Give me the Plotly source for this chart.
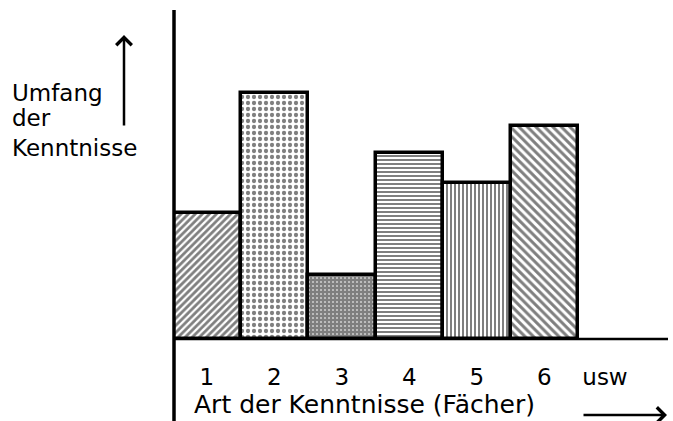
import plotly.graph_objects as go

# --- data ---
categories = [1, 2, 3, 4, 5, 6]
umfang = [3.83, 7.48, 1.95, 5.65, 4.74, 6.47]
patterns = ["/", ".", "+", "-", "|", "\\"]
pattern_sizes = [5, 6, 4, 4, 4, 6]
pattern_solidity = [0.55, 0.4, 0.9, 0.5, 0.5, 0.5]
tick_vals = [1, 2, 3, 4, 5, 6, 6.9]
tick_text = ["1", "2", "3", "4", "5", "6", "usw"]

W, H = 673, 421
L, R, T, B = 173, 0, 10, 82
PX = 67.5  # pixels per category
plot_w = W - L - R
plot_h = H - T - B

def px_x(p):
    return (p - L) / plot_w

def px_y(p):
    return (H - B - p) / plot_h

FONT = "DejaVu Sans"
INK = "#000000"

fig = go.Figure()
fig.add_trace(go.Bar(
    x=categories,
    y=umfang,
    width=1,
    marker=dict(
        color="white",
        line=dict(color=INK, width=3.5),
        pattern=dict(shape=patterns, size=pattern_sizes, solidity=pattern_solidity,
                     fgcolor=INK, bgcolor="white", fillmode="overlay"),
    ),
    hoverinfo="skip",
))

shapes = [
    # vertical axis line, extending below baseline
    dict(type="line", xref="paper", yref="paper", x0=px_x(174), x1=px_x(174),
         y0=px_y(421), y1=px_y(10), line=dict(color=INK, width=3.5)),
    # baseline
    dict(type="line", xref="paper", yref="paper", x0=px_x(174), x1=px_x(668),
         y0=px_y(339), y1=px_y(339), line=dict(color=INK, width=2.5)),
]

annotations = [
    dict(text="Umfang", x=px_x(10), y=px_y(93), xref="paper", yref="paper",
         xanchor="left", yanchor="middle", showarrow=False,
         font=dict(family=FONT, size=23, color=INK)),
    dict(text="der", x=px_x(10), y=px_y(118), xref="paper", yref="paper",
         xanchor="left", yanchor="middle", showarrow=False,
         font=dict(family=FONT, size=23, color=INK)),
    dict(text="Kenntnisse", x=px_x(10), y=px_y(148), xref="paper", yref="paper",
         xanchor="left", yanchor="middle", showarrow=False,
         font=dict(family=FONT, size=23, color=INK)),
    dict(text="Art der Kenntnisse (Fächer)", x=px_x(192), y=px_y(404),
         xref="paper", yref="paper", xanchor="left", yanchor="middle",
         showarrow=False, font=dict(family=FONT, size=25, color=INK)),
    # up arrow
    dict(text="", x=px_x(124), y=px_y(35), xref="paper", yref="paper",
         ax=0, ay=92, axref="pixel", ayref="pixel", showarrow=True,
         arrowhead=4, arrowsize=1.2, arrowwidth=2.5, arrowcolor=INK, standoff=0),
    # right arrow
    dict(text="", x=px_x(667), y=px_y(415), xref="paper", yref="paper",
         ax=-85, ay=0, axref="pixel", ayref="pixel", showarrow=True,
         arrowhead=4, arrowsize=1.2, arrowwidth=2.5, arrowcolor=INK, standoff=0),
]

fig.update_layout(
    width=W, height=H,
    margin=dict(l=L, r=R, t=T, b=B, pad=0),
    paper_bgcolor="white", plot_bgcolor="white",
    showlegend=False, bargap=0,
    shapes=shapes, annotations=annotations,
    xaxis=dict(range=[0.5, 0.5 + plot_w / PX], tickvals=tick_vals, ticktext=tick_text,
               showgrid=False, zeroline=False, showline=False, ticks="",
               ticklabelstandoff=22,
               tickfont=dict(family=FONT, size=23, color=INK), fixedrange=True),
    yaxis=dict(range=[0, 10], showgrid=False, zeroline=False, showline=False,
               showticklabels=False, ticks="", fixedrange=True),
)

fig.write_html(
    "out.html",
    config={"displayModeBar": False},
    post_script="document.body.style.margin='0';document.body.style.overflow='hidden';",
)
